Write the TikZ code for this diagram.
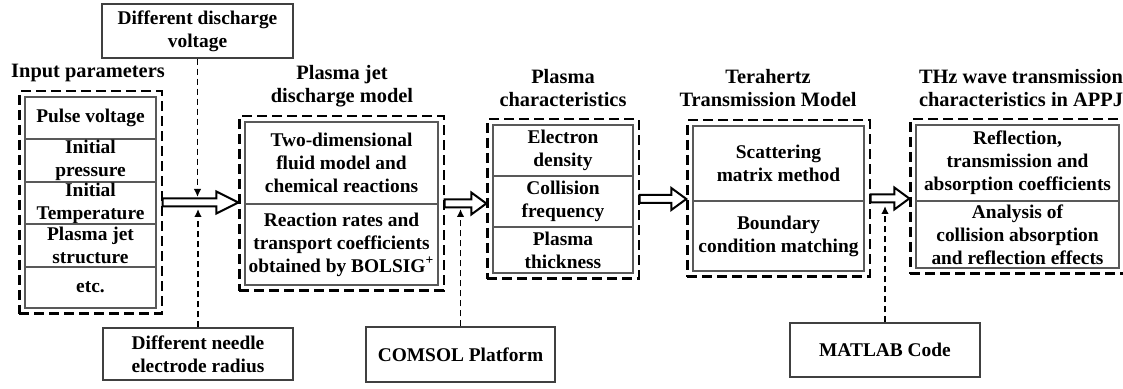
\documentclass[tikz,border=0pt]{standalone}
\usepackage{fontspec}
\setmainfont{Liberation Serif}
\usetikzlibrary{arrows.meta,calc,fit}

\tikzset{
  cell/.style={draw=black!65, line width=0.6pt, align=center, inner xsep=1pt, inner ysep=0pt,
    font=\fontsize{9.7}{11.5}\selectfont\bfseries},
  sidebox/.style={cell, draw=black!75},
  dashbox/.style={draw, line width=1.1pt, dash pattern=on 5pt off 2.5pt, inner sep=2.5pt},
  title/.style={align=center, inner sep=0pt, font=\fontsize{10.2}{11.5}\selectfont\bfseries},
  dasharrow/.style={line width=0.9pt, dash pattern=on 3pt off 2pt, -{Latex[length=4pt,width=3.8pt]}},
  fatarrow/.style={draw, fill=white, line width=1pt, line join=miter,
    to path={let \p1=(\tikztostart), \p2=(\tikztotarget) in
      (\x1,{\y1+2pt}) -- ({\x2-#1},{\y1+2pt}) -- ({\x2-#1},{\y1+5.5pt}) -- (\x2,\y1)
      -- ({\x2-#1},{\y1-5.5pt}) -- ({\x2-#1},{\y1-2pt}) -- (\x1,{\y1-2pt}) -- cycle}},
  fatarrow/.default=7.5pt
}

\begin{document}
\begin{tikzpicture}[x=0.5pt,y=-0.5pt]
\useasboundingbox (0,0) rectangle (1123,389);

% input parameters
\node[cell, minimum width=65.5pt, minimum height=21pt] (in1) at (90.5,118) {Pulse voltage};
\node[cell, minimum width=65.5pt, minimum height=21.5pt] (in2) at (90.5,160.5) {Initial\\pressure};
\node[cell, minimum width=65.5pt, minimum height=21pt] (in3) at (90.5,203) {Initial\\Temperature};
\node[cell, minimum width=65.5pt, minimum height=21.5pt] (in4) at (90.5,245.5) {Plasma jet\\structure};
\node[cell, minimum width=65.5pt, minimum height=20.5pt] (in5) at (90.5,287.5) {etc.};
\node[dashbox, fit=(in1)(in5)] (input) {};
\node[title] (tinput) at (88,73) {Input parameters};

% discharge model
\node[cell, minimum width=96.5pt, minimum height=41pt] (mod1) at (341.5,163) {Two-dimensional\\fluid model and\\chemical reactions};
\node[cell, minimum width=96.5pt, minimum height=40.5pt] (mod2) at (341.5,244.5) {Reaction rates and\\transport coefficients\\obtained by BOLSIG\textsuperscript{+}};
\node[dashbox, fit=(mod1)(mod2)] (model) {};
\node[title] (tmodel) at (342,86.5) {Plasma jet\\discharge model};

% plasma characteristics
\node[cell, minimum width=70pt, minimum height=25.5pt] (ch1) at (563,150.5) {Electron\\density};
\node[cell, minimum width=70pt, minimum height=25.5pt] (ch2) at (563,201.5) {Collision\\frequency};
\node[cell, minimum width=70pt, minimum height=23pt] (ch3) at (563,250) {Plasma\\thickness};
\node[dashbox, fit=(ch1)(ch3)] (chars) {};
\node[title] (tchars) at (563,88.5) {Plasma\\characteristics};

% transmission model
\node[cell, minimum width=85.5pt, minimum height=37.5pt] (tm1) at (778.5,163.5) {Scattering\\matrix method};
\node[cell, minimum width=85.5pt, minimum height=35pt] (tm2) at (778.5,236) {Boundary\\condition matching};
\node[dashbox, fit=(tm1)(tm2)] (trans) {};
\node[title] (ttrans) at (768,88.5) {Terahertz\\Transmission Model};

% results
\node[cell, minimum width=101.5pt, minimum height=38pt] (res1) at (1017.5,163) {Reflection,\\transmission and\\absorption coefficients};
\node[cell, minimum width=101.5pt, minimum height=33.5pt] (res2) at (1017.5,234.5) {Analysis of\\collision absorption\\and reflection effects};
\node[dashbox, fit=(res1)(res2)] (result) {};
\node[title] (tresult) at (1021,88.5) {THz wave transmission\\characteristics in APPJ};

% side inputs
\node[sidebox, minimum width=95.5pt, minimum height=27pt] (volt) at (197.5,31) {Different discharge\\voltage};
\node[sidebox, minimum width=95pt, minimum height=26pt] (needle) at (198,354) {Different needle\\electrode radius};
\node[sidebox, minimum width=94.5pt, minimum height=27.5pt] (comsol) at (460.5,354.5) {COMSOL Platform};
\node[sidebox, minimum width=95pt, minimum height=27pt] (matlab) at (885,350) {MATLAB Code};

% main flow
\draw[fatarrow=11pt] (input.east) to (model.west);
\draw[fatarrow] (model.east) to (chars.west);
\draw[fatarrow] (chars.east) to (trans.west);
\draw[fatarrow] (trans.east) to (result.west);

\coordinate (pvolt) at (198,197);
\coordinate (pneedle) at (198,209);
\coordinate (pcomsol) at (460,209);
\coordinate (pmatlab) at (885,206);
\draw[dasharrow] (volt.south) -- (volt.south |- pvolt);
\draw[dasharrow] (needle.north) -- (needle.north |- pneedle);
\draw[dasharrow] (comsol.north) -- (comsol.north |- pcomsol);
\draw[dasharrow] (matlab.north) -- (matlab.north |- pmatlab);

\end{tikzpicture}
\end{document}
